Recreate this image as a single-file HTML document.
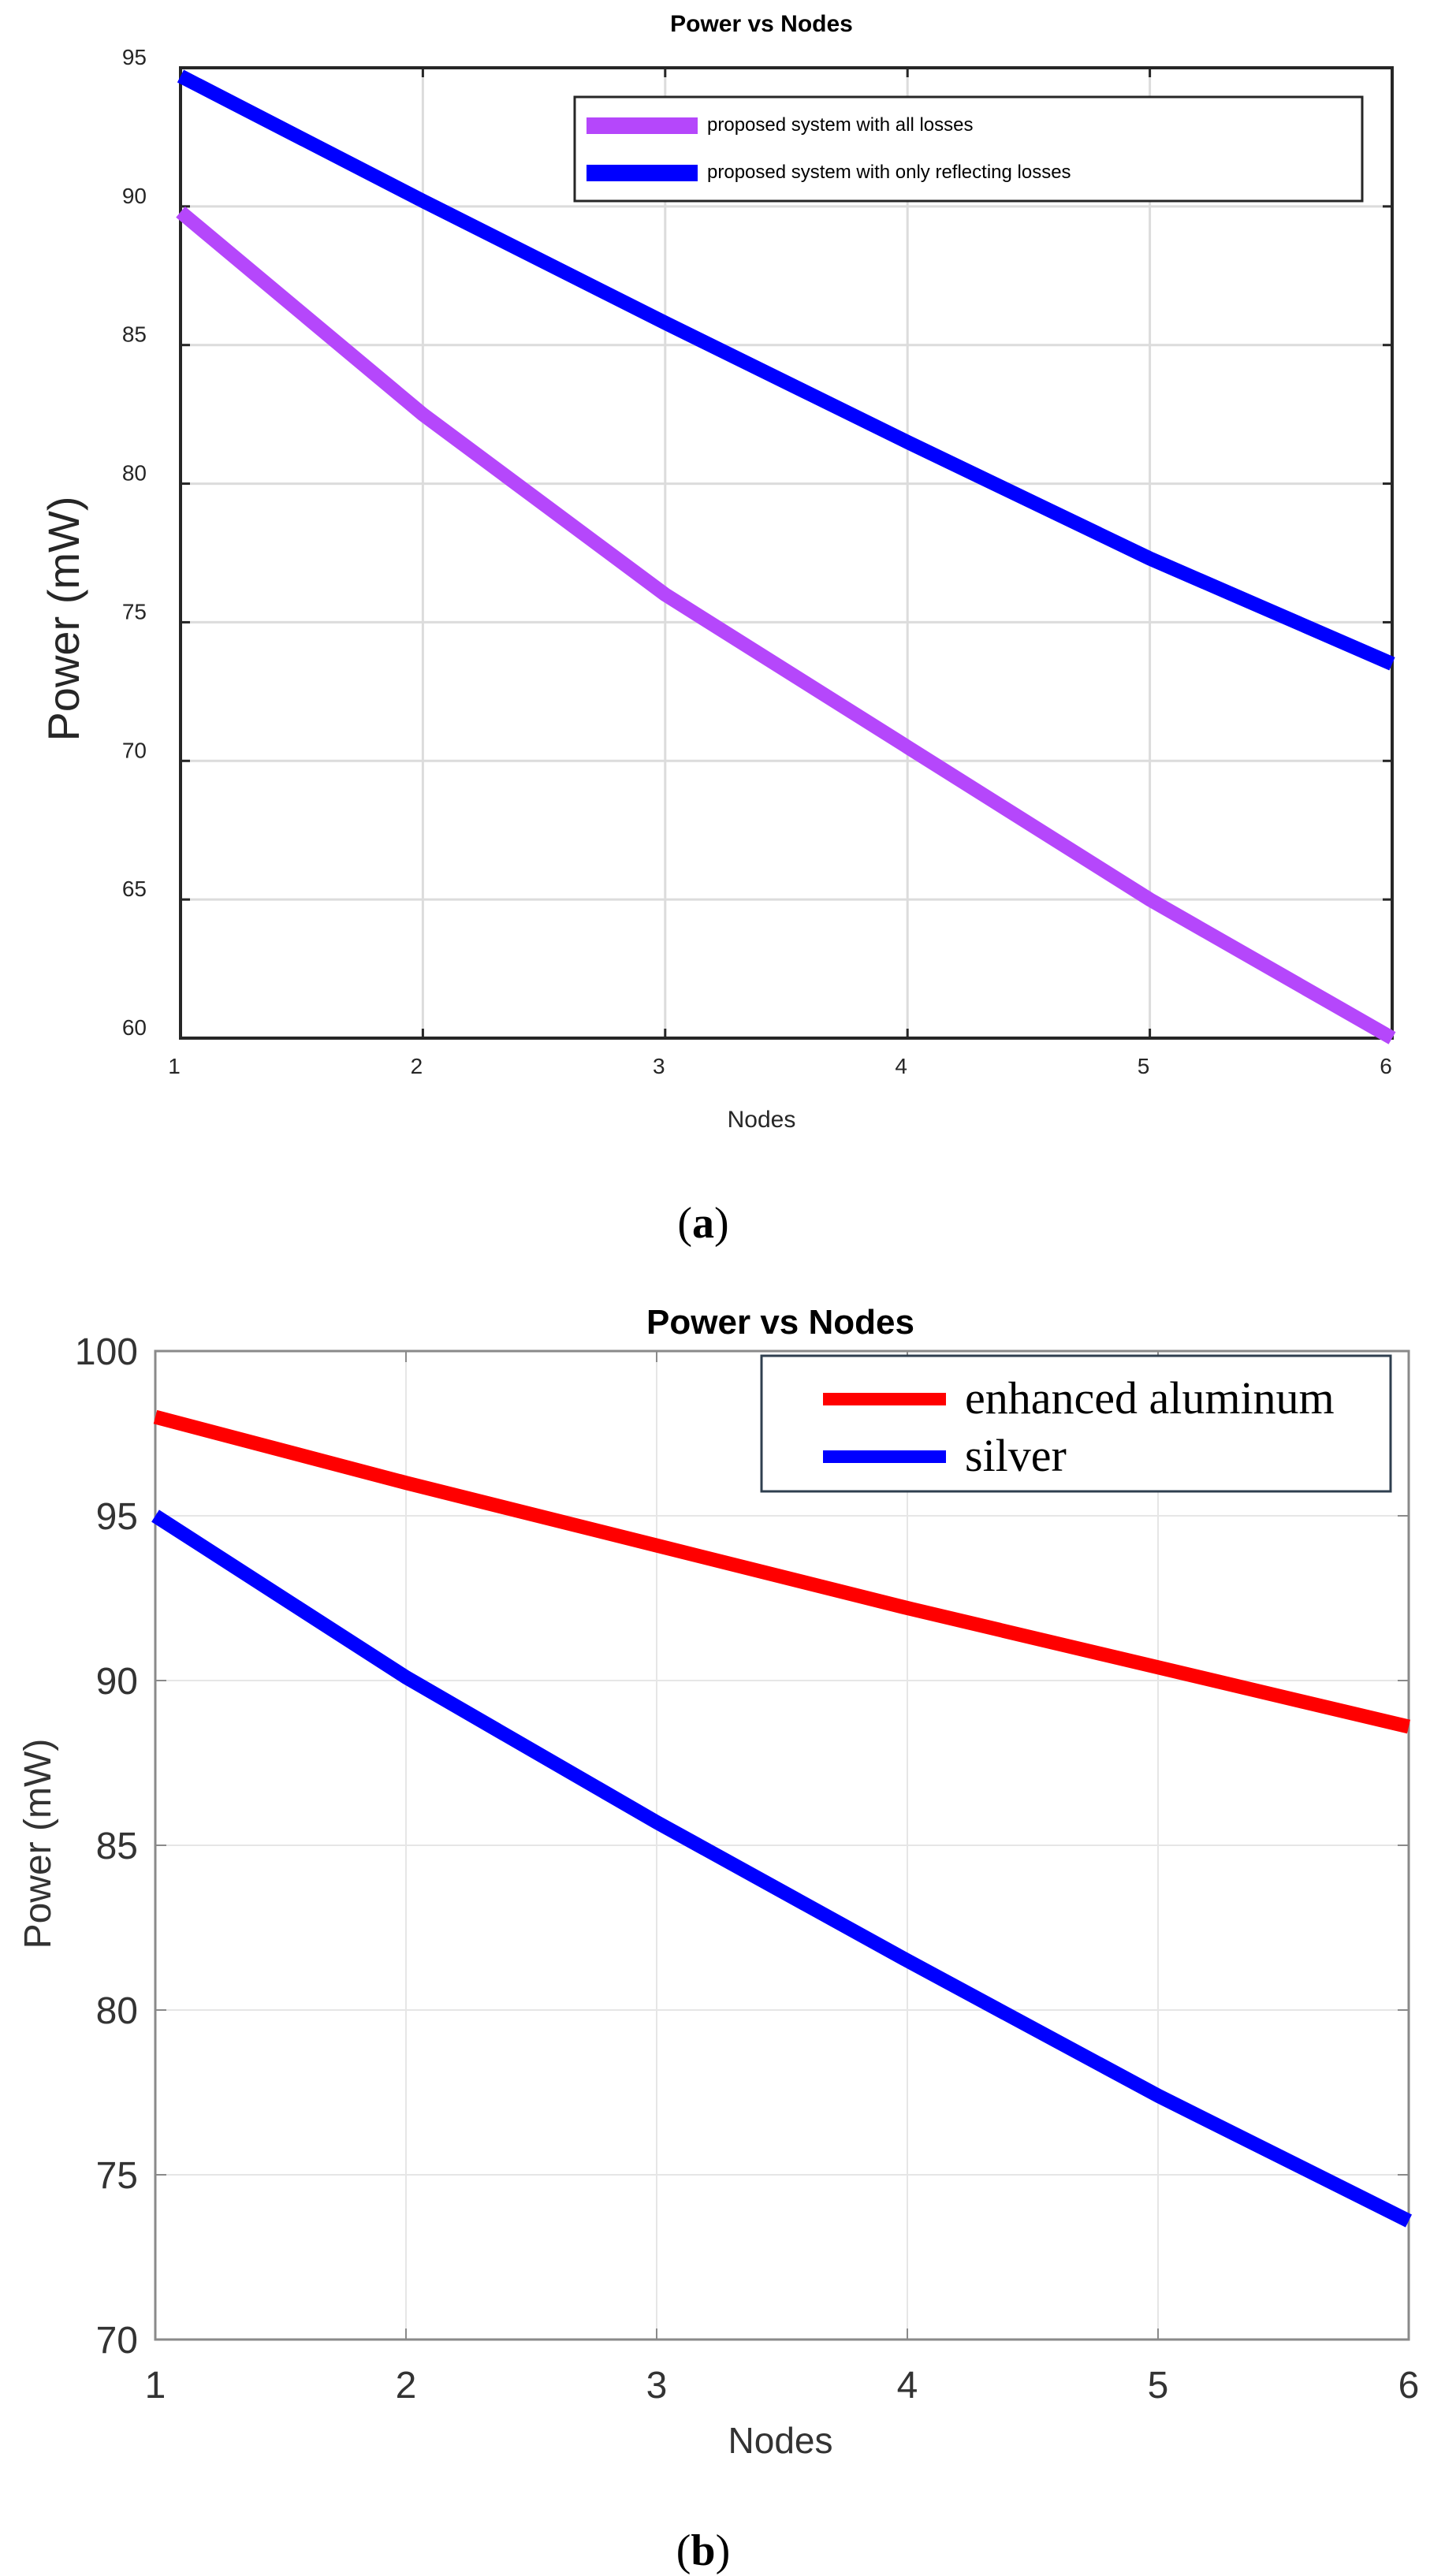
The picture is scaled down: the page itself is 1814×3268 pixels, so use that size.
<!DOCTYPE html>
<html><head><meta charset="utf-8"><title>Power vs Nodes</title>
<style>
html,body{margin:0;padding:0;background:#fff;}
svg{display:block;}
text{font-family:"Liberation Sans",sans-serif;}
.serif{font-family:"Liberation Serif",serif;}
</style></head>
<body>
<svg id="fig" width="1814" height="3268" viewBox="0 0 1814 3268" xmlns="http://www.w3.org/2000/svg">
  <g id="chartA"></g>
  <g id="chartB"></g>
  <text class="serif" x="892" y="1570" font-size="56" text-anchor="middle">(<tspan font-weight="bold">a</tspan>)</text>
  <text class="serif" x="892" y="3254" font-size="56" text-anchor="middle">(<tspan font-weight="bold">b</tspan>)</text>
</svg>
<script>
// ---- Chart A data ----
const nodesA = [1, 2, 3, 4, 5, 6];
const allLosses = [89.8, 82.5, 76.0, 70.5, 65.0, 60.0];
const reflectingLosses = [94.7, 90.2, 85.8, 81.5, 77.3, 73.5];
const yTicksA = [60, 65, 70, 75, 80, 85, 90, 95];
const xTicksA = [1, 2, 3, 4, 5, 6];
const legendA = ["proposed system with all losses", "proposed system with only reflecting losses"];
// ---- Chart B data ----
const nodesB = [1, 2, 3, 4, 5, 6];
const enhancedAluminum = [98.0, 96.0, 94.1, 92.2, 90.4, 88.6];
const silver = [95.0, 90.1, 85.7, 81.5, 77.4, 73.6];
const yTicksB = [70, 75, 80, 85, 90, 95, 100];
const xTicksB = [1, 2, 3, 4, 5, 6];
const legendB = ["enhanced  aluminum", "silver"];

const NS = "http://www.w3.org/2000/svg";
function mk(parent, tag, attrs, txt) {
  const e = document.createElementNS(NS, tag);
  for (const k in attrs) e.setAttribute(k, attrs[k]);
  if (txt !== undefined) e.textContent = txt;
  parent.appendChild(e);
  return e;
}
function scale(d0, d1, r0, r1) { return v => r0 + (v - d0) * (r1 - r0) / (d1 - d0); }

// ===== Chart A =====
(function () {
  const g = document.getElementById("chartA");
  const L = 229, R = 1766, T = 86, B = 1317;
  const x = scale(1, 6, L, R), y = scale(60, 95, B, T);
  xTicksA.forEach(v => {
    const l = mk(g, "line", {x1: x(v), x2: x(v), y1: T, y2: B, stroke: "#dcdcdc", "stroke-width": 3});
    
    
  });
  yTicksA.forEach(v => {
    const l = mk(g, "line", {x1: L, x2: R, y1: y(v), y2: y(v), stroke: "#dcdcdc", "stroke-width": 3});
    
    
  });
  const fr = mk(g, "rect", {x: L, y: T, width: R - L, height: B - T, fill: "none", stroke: "#262626", "stroke-width": 4});
  
  
  xTicksA.forEach(v => {
    mk(g, "line", {x1: x(v), x2: x(v), y1: T, y2: T + 12, stroke: "#262626", "stroke-width": 3});
    mk(g, "line", {x1: x(v), x2: x(v), y1: B, y2: B - 12, stroke: "#262626", "stroke-width": 3});
    const t = mk(g, "text", {x: x(v) - 8, y: 1362, "font-size": 28, fill: "#262626", "text-anchor": "middle"}, String(v));
    
    
  });
  yTicksA.forEach(v => {
    mk(g, "line", {x1: L, x2: L + 12, y1: y(v), y2: y(v), stroke: "#262626", "stroke-width": 3});
    mk(g, "line", {x1: R, x2: R - 12, y1: y(v), y2: y(v), stroke: "#262626", "stroke-width": 3});
    const t = mk(g, "text", {x: 186, y: y(v) - 4, "font-size": 28, fill: "#262626", "text-anchor": "end"}, String(v));
    
    
  });
  function series(vals, color, name) {
    const pts = nodesA.map((n, i) => x(n) + "," + y(vals[i])).join(" ");
    const p = mk(g, "polyline", {points: pts, fill: "none", stroke: color, "stroke-width": 18});
    
    
  }
  series(allLosses, "#b547fb", "series-all-losses");
  series(reflectingLosses, "#0000ff", "series-reflecting-losses");
  const t1 = mk(g, "text", {x: 966, y: 40, "font-size": 30, "font-weight": "bold", "text-anchor": "middle", fill: "#000"}, "Power vs Nodes");
  
  
  const xl = mk(g, "text", {x: 966, y: 1430, "font-size": 30, "text-anchor": "middle", fill: "#262626"}, "Nodes");
  
  
  const yl = mk(g, "text", {x: 0, y: 0, "font-size": 56, "text-anchor": "middle", fill: "#262626", transform: "translate(100,785) rotate(-90)"}, "Power (mW)");
  
  
  const lg = mk(g, "g", {});
  
  
  mk(lg, "rect", {x: 729, y: 123, width: 999, height: 132, fill: "#fff", stroke: "#262626", "stroke-width": 3});
  const cols = ["#b547fb", "#0000ff"], ys = [159, 219];
  legendA.forEach((s, i) => {
    const e = mk(lg, "g", {});
    
    
    mk(e, "rect", {x: 744, y: ys[i] - 10, width: 141, height: 21, fill: cols[i]});
    mk(e, "text", {x: 897, y: ys[i] + 7, "font-size": 24, fill: "#000"}, s);
  });
})();

// ===== Chart B =====
(function () {
  const g = document.getElementById("chartB");
  const L = 197, R = 1787, T = 1714, B = 2968;
  const x = scale(1, 6, L, R), y = scale(70, 100, B, T);
  xTicksB.forEach(v => {
    const l = mk(g, "line", {x1: x(v), x2: x(v), y1: T, y2: B, stroke: "#e6e6e6", "stroke-width": 2});
    
    
  });
  yTicksB.forEach(v => {
    const l = mk(g, "line", {x1: L, x2: R, y1: y(v), y2: y(v), stroke: "#e6e6e6", "stroke-width": 2});
    
    
  });
  const fr = mk(g, "rect", {x: L, y: T, width: R - L, height: B - T, fill: "none", stroke: "#8a8a8a", "stroke-width": 3});
  
  
  xTicksB.forEach(v => {
    mk(g, "line", {x1: x(v), x2: x(v), y1: T, y2: T + 14, stroke: "#8a8a8a", "stroke-width": 2});
    mk(g, "line", {x1: x(v), x2: x(v), y1: B, y2: B - 14, stroke: "#8a8a8a", "stroke-width": 2});
    const t = mk(g, "text", {x: x(v), y: 3042, "font-size": 48, fill: "#333", "text-anchor": "middle"}, String(v));
    
    
  });
  yTicksB.forEach(v => {
    mk(g, "line", {x1: L, x2: L + 14, y1: y(v), y2: y(v), stroke: "#8a8a8a", "stroke-width": 2});
    mk(g, "line", {x1: R, x2: R - 14, y1: y(v), y2: y(v), stroke: "#8a8a8a", "stroke-width": 2});
    const t = mk(g, "text", {x: 175, y: y(v) + 17, "font-size": 48, fill: "#333", "text-anchor": "end"}, String(v));
    
    
  });
  function series(vals, color, name) {
    const pts = nodesB.map((n, i) => x(n) + "," + y(vals[i])).join(" ");
    const p = mk(g, "polyline", {points: pts, fill: "none", stroke: color, "stroke-width": 18});
    
    
  }
  series(enhancedAluminum, "#ff0000", "series-enhanced-aluminum");
  series(silver, "#0000ff", "series-silver");
  const t1 = mk(g, "text", {x: 990, y: 1692, "font-size": 44, "font-weight": "bold", "text-anchor": "middle", fill: "#000"}, "Power vs Nodes");
  
  
  const xl = mk(g, "text", {x: 990, y: 3112, "font-size": 46, "text-anchor": "middle", fill: "#333"}, "Nodes");
  
  
  const yl = mk(g, "text", {x: 0, y: 0, "font-size": 48, "text-anchor": "middle", fill: "#333", transform: "translate(64,2339) rotate(-90)"}, "Power (mW)");
  
  
  const lg = mk(g, "g", {});
  
  
  mk(lg, "rect", {x: 966, y: 1720, width: 798, height: 172, fill: "#fff", stroke: "#2f3f4f", "stroke-width": 3});
  const cols = ["#ff0000", "#0000ff"], ys = [1775, 1848];
  legendB.forEach((s, i) => {
    const e = mk(lg, "g", {});
    
    
    mk(e, "rect", {x: 1044, y: ys[i] - 8, width: 156, height: 16, fill: cols[i]});
    mk(e, "text", {x: 1224, y: ys[i] + 18, "font-size": 58, fill: "#000", "class": "serif"}, s);
  });
})();
</script>
</body></html>
